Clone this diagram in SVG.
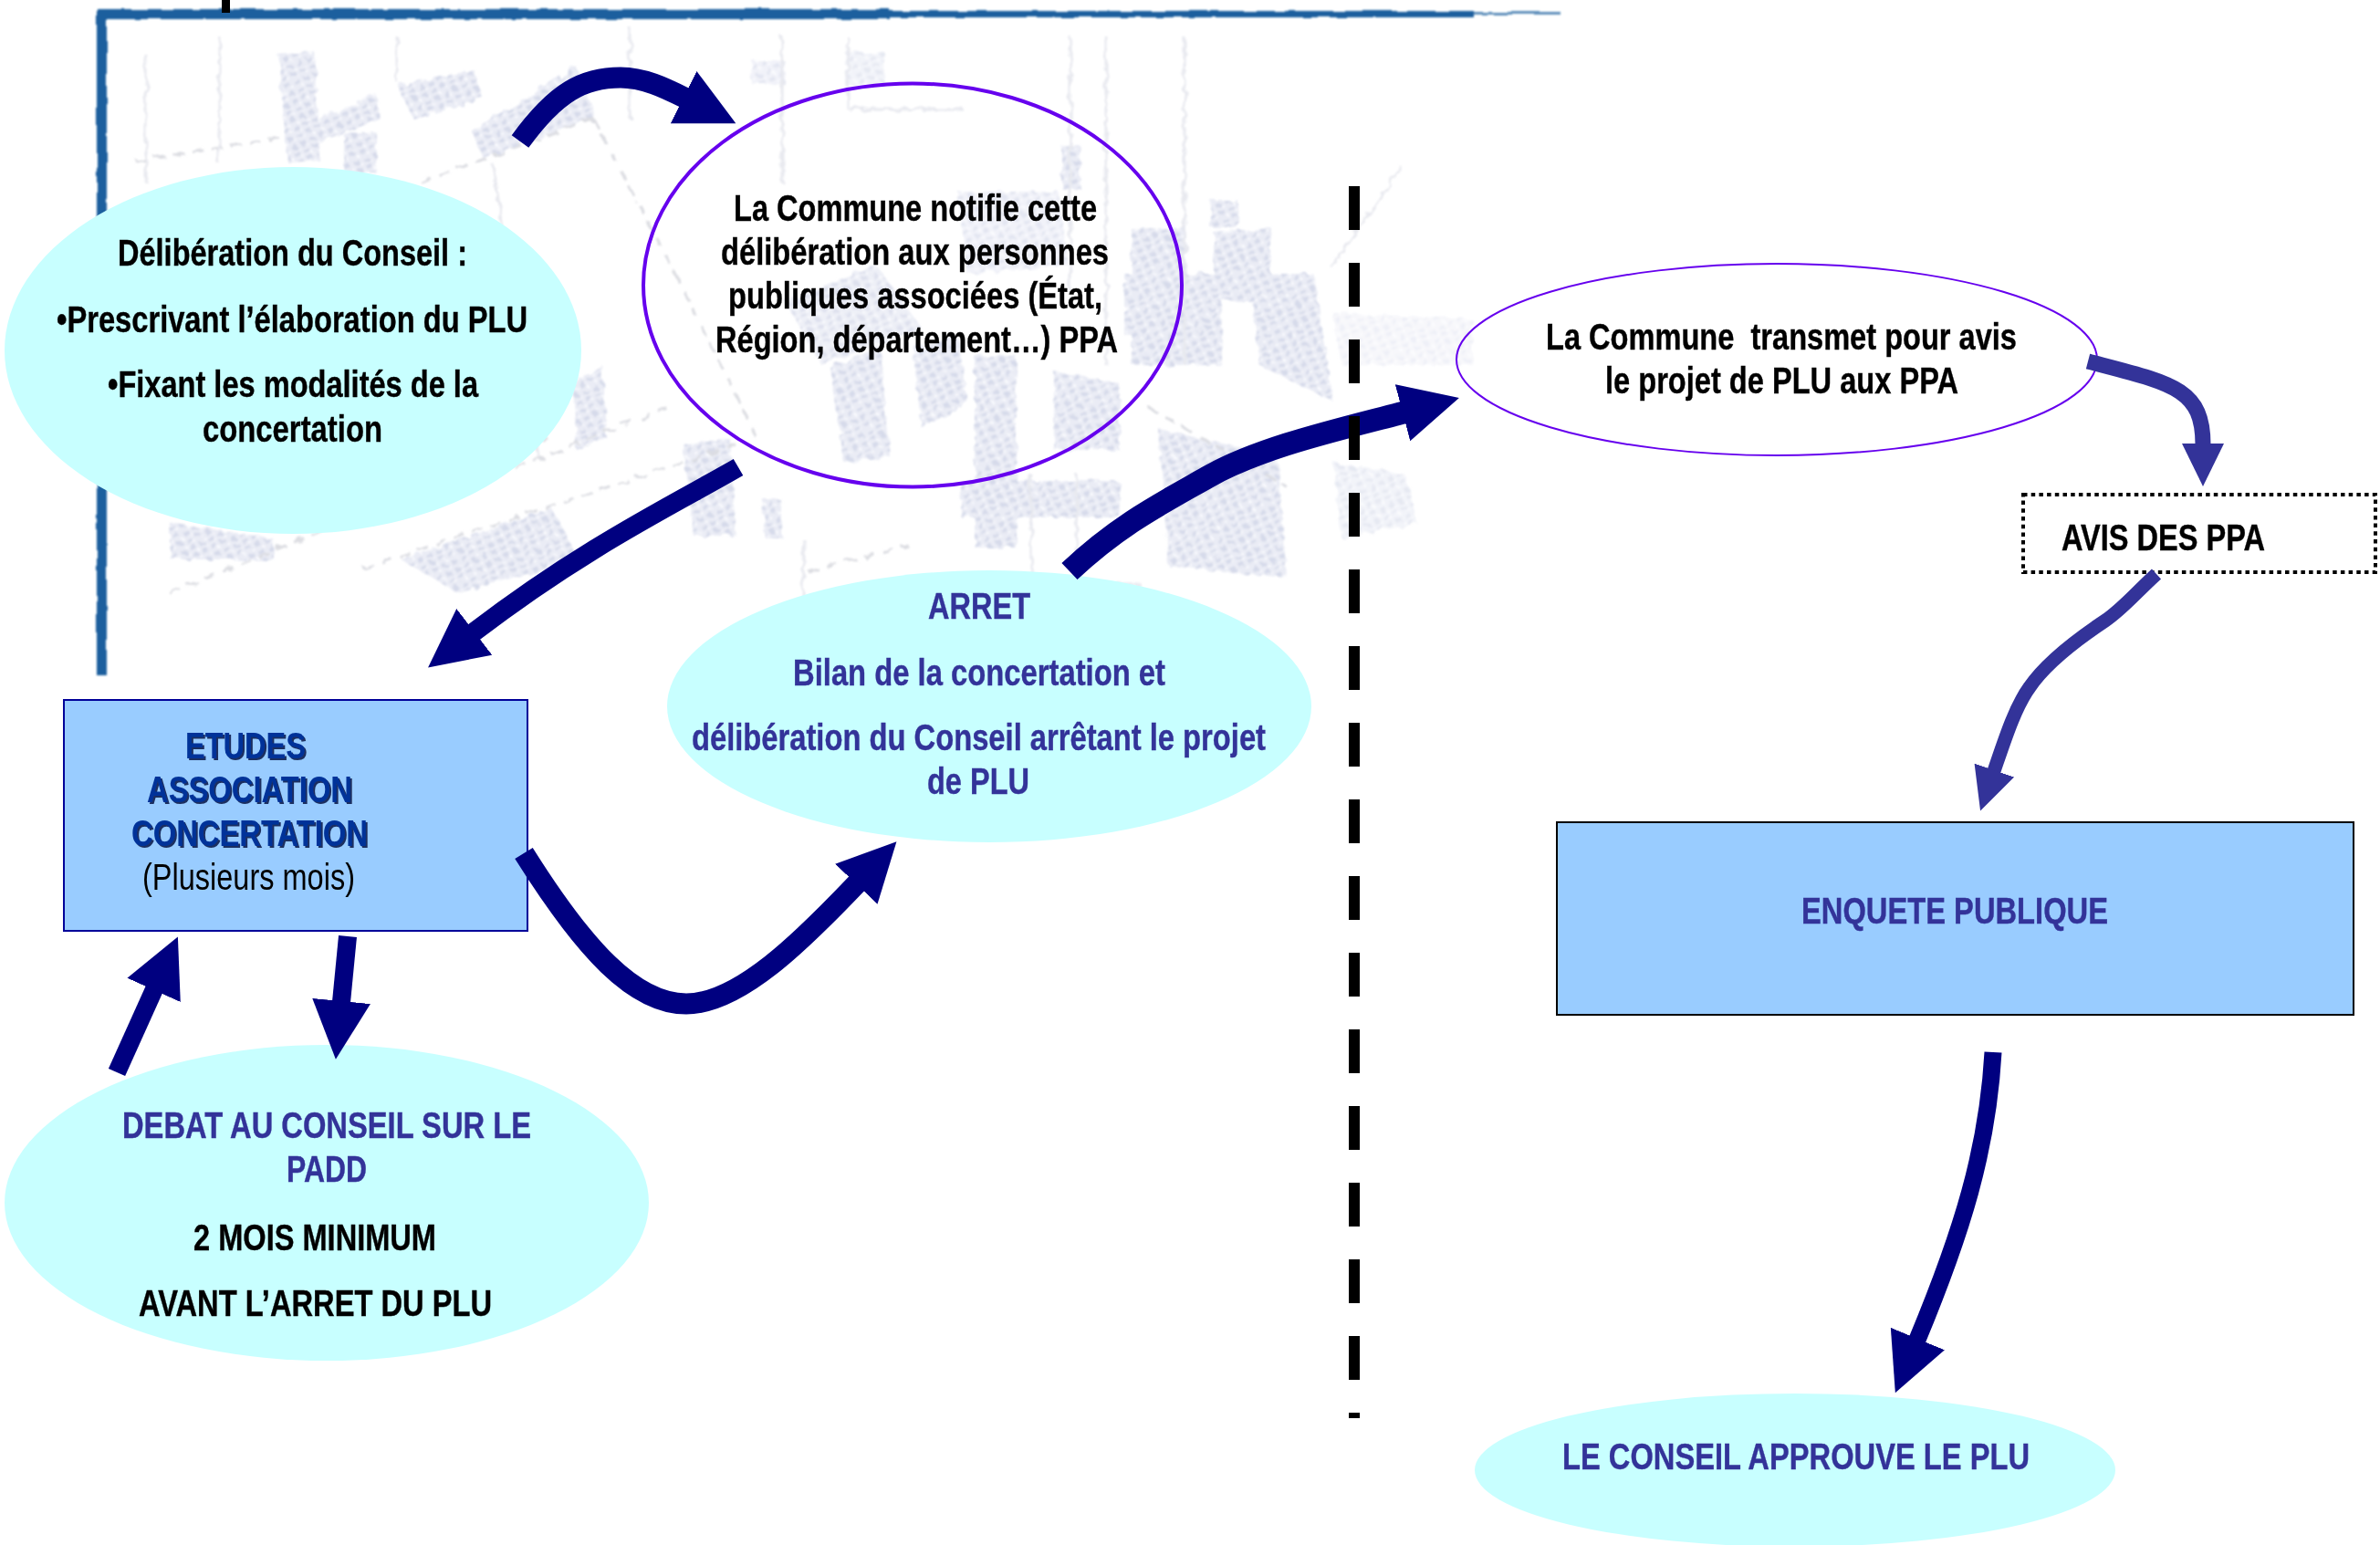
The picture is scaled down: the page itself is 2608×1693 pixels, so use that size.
<svg xmlns="http://www.w3.org/2000/svg" width="2608" height="1693" viewBox="0 0 2608 1693">
<style>
text{font-family:"Liberation Sans",Arial,sans-serif;font-size:40px;font-weight:700;white-space:pre}
.k{fill:#000;stroke:#000;stroke-width:.4}
.b{fill:#333399;stroke:#333399;stroke-width:.4}
.n{fill:#003399;filter:url(#shadow)}
.r{font-weight:400;fill:#000}
.cyan{fill:#c8ffff}
.rect{fill:#99ccff}
.vio{fill:none;stroke:#6600ee}
.navy{fill:none;stroke:#000080;marker-end:url(#hn)}
.blue{fill:none;stroke:#333399;marker-end:url(#hb)}
.bl{fill:url(#tex)}
.rd{fill:none;stroke:#dcdde2;stroke-width:3;stroke-dasharray:12 9}
.vl{fill:none;stroke:#e8e9ef;stroke-width:3}
</style>
<defs>
<pattern id="tex" width="11" height="9" patternUnits="userSpaceOnUse" patternTransform="rotate(-25)">
<rect width="11" height="9" fill="#eaecf5"/>
<rect x="1" y="1" width="6" height="4" fill="#d6daea"/>
<rect x="7" y="6" width="3" height="2" fill="#fafbfe"/>
</pattern>
<filter id="blur" x="-5%" y="-5%" width="110%" height="110%">
<feTurbulence type="fractalNoise" baseFrequency="0.09" numOctaves="2" seed="4" result="t"/>
<feDisplacementMap in="SourceGraphic" in2="t" scale="9" result="d"/>
<feGaussianBlur in="d" stdDeviation="1.3"/>
</filter>
<filter id="fr" x="-5%" y="-50%" width="110%" height="200%">
<feTurbulence type="fractalNoise" baseFrequency="0.05" numOctaves="2" seed="7" result="t"/>
<feDisplacementMap in="SourceGraphic" in2="t" scale="4" result="d"/>
<feGaussianBlur in="d" stdDeviation="0.9"/>
</filter>
<filter id="shadow" x="-5%" y="-10%" width="110%" height="130%"><feDropShadow dx="2" dy="2" stdDeviation="0.6" flood-color="#0a1a50" flood-opacity="0.9"/></filter>
<marker id="hn" markerUnits="userSpaceOnUse" markerWidth="66" markerHeight="66" viewBox="0 0 66 66" refX="1" refY="33" orient="auto"><path d="M0,1 L64,33 L0,65 Z" fill="#000080"/></marker>
<marker id="hb" markerUnits="userSpaceOnUse" markerWidth="48" markerHeight="48" viewBox="0 0 48 48" refX="1" refY="24" orient="auto"><path d="M0,1 L47,24 L0,47 Z" fill="#333399"/></marker>
</defs>

<g id="map">
<g filter="url(#blur)">
<g class="bl">
<polygon points="305,60 345,56 350,176 315,178"/>
<polygon points="332,138 412,103 418,130 338,160"/>
<polygon points="435,93 520,77 528,107 453,130"/>
<polygon points="517,143 631,73 653,128 529,173"/>
<polygon points="377,147 412,145 412,190 377,190"/>
<polygon points="186,573 300,590 300,613 186,613"/>
<polygon points="439,613 605,557 634,613 502,650"/>
<polygon points="749,487 800,480 806,587 760,587"/>
<polygon points="835,547 855,547 858,590 838,590"/>
<polygon points="628,420 660,400 665,480 632,493"/>
<polygon points="824,67 860,67 860,92 824,92" opacity="0.7"/>
<polygon points="926,57 969,57 969,93 926,93" opacity="0.6"/>
<polygon points="1163,160 1184,160 1184,207 1163,207"/>
<polygon points="1327,220 1357,220 1357,250 1327,250"/>
<polygon points="1240,250 1300,250 1300,400 1240,400"/>
<polygon points="1330,255 1393,250 1393,330 1330,330"/>
<polygon points="1050,210 1160,210 1170,290 1060,300" opacity="0.7"/>
<polygon points="910,403 965,380 975,500 925,507"/>
<polygon points="860,330 960,290 1010,360 900,400" opacity="0.8"/>
<polygon points="1369,300 1440,300 1461,440 1380,400"/>
<polygon points="1270,470 1400,500 1410,633 1280,620"/>
<polygon points="1053,527 1227,527 1227,567 1053,567"/>
<polygon points="1068,390 1114,390 1114,600 1068,600"/>
<polygon points="1155,407 1227,420 1227,493 1155,493"/>
<polygon points="1461,507 1540,520 1553,573 1470,590" opacity="0.6"/>
<polygon points="1298,300 1339,300 1339,400 1298,400"/>
<polygon points="1232,300 1272,300 1272,367 1232,367"/>
<polygon points="1460,343 1614,350 1614,400 1470,400" opacity="0.4"/>
<polygon points="1000,380 1050,370 1060,440 1010,470"/>
</g>
<path class="rd" d="M149,177 L314,150 M565,513 L731,447 M398,623 L806,487 M886,627 L995,597 M462,200 L653,128 M186,650 L600,480 M1259,447 L1410,533 M650,130 L740,300 M740,300 L830,480"/>
<path class="vl" d="M857,40 V200 M929,40 V120 M1173,40 V320 M1212,40 V400 M1298,40 V400 M240,40 V180 M160,60 V200 M435,40 V90 M931,120 H1056 M1459,293 L1536,183 M690,30 V130 M540,180 L590,500 M1130,520 V660 M1180,520 V650 M880,590 V680 M1150,640 L1250,640"/>
</g>
<g filter="url(#fr)" fill="#1c5f9e">
<rect x="107" y="10" width="868" height="11"/>
<rect x="975" y="12" width="640" height="7"/>
<rect x="1615" y="13" width="95" height="3" opacity="0.7"/>
<rect x="106" y="12" width="11" height="728"/>
</g>
<rect x="243" y="0" width="9" height="14" fill="#000"/>
</g>

<g id="n-deliberation">
<ellipse class="cyan" cx="321" cy="384" rx="316" ry="201"/>
<text class="k" x="129" y="291" textLength="383" lengthAdjust="spacingAndGlyphs">Délibération du Conseil :</text>
<text class="k" x="62" y="364" textLength="516" lengthAdjust="spacingAndGlyphs">•Prescrivant l’élaboration du PLU</text>
<text class="k" x="118" y="435" textLength="406" lengthAdjust="spacingAndGlyphs">•Fixant les modalités de la</text>
<text class="k" x="222" y="484" textLength="197" lengthAdjust="spacingAndGlyphs">concertation</text>
</g>
<g id="n-notifie">
<ellipse class="vio" stroke-width="4" cx="1000" cy="312.500" rx="295" ry="221"/>
<text class="k" x="804" y="242" textLength="398" lengthAdjust="spacingAndGlyphs">La Commune notifie cette</text>
<text class="k" x="790" y="290" textLength="425" lengthAdjust="spacingAndGlyphs">délibération aux personnes</text>
<text class="k" x="798" y="338" textLength="410" lengthAdjust="spacingAndGlyphs">publiques associées (État,</text>
<text class="k" x="784" y="386" textLength="441" lengthAdjust="spacingAndGlyphs">Région, département…) PPA</text>
</g>
<g id="n-arret">
<ellipse class="cyan" cx="1084" cy="774" rx="353" ry="149"/>
<text class="b" x="1017" y="678" textLength="112" lengthAdjust="spacingAndGlyphs">ARRET</text>
<text class="b" x="869" y="751" textLength="408" lengthAdjust="spacingAndGlyphs">Bilan de la concertation et</text>
<text class="b" x="758" y="822" textLength="629" lengthAdjust="spacingAndGlyphs">délibération du Conseil arrêtant le projet</text>
<text class="b" x="1016" y="870" textLength="112" lengthAdjust="spacingAndGlyphs">de PLU</text>
</g>
<g id="n-etudes">
<rect class="rect" x="70" y="767" width="508" height="253" stroke="#000099" stroke-width="2"/>
<text class="n" x="203" y="831" textLength="132" lengthAdjust="spacingAndGlyphs">ETUDES</text>
<text class="n" x="161" y="879" textLength="225" lengthAdjust="spacingAndGlyphs">ASSOCIATION</text>
<text class="n" x="144" y="927" textLength="259" lengthAdjust="spacingAndGlyphs">CONCERTATION</text>
<text class="r" x="156" y="975" textLength="233" lengthAdjust="spacingAndGlyphs">(Plusieurs mois)</text>
</g>
<g id="n-debat">
<ellipse class="cyan" cx="358" cy="1318" rx="353" ry="173"/>
<text class="b" x="134" y="1247" textLength="448" lengthAdjust="spacingAndGlyphs">DEBAT AU CONSEIL SUR LE</text>
<text class="b" x="314" y="1295" textLength="88" lengthAdjust="spacingAndGlyphs">PADD</text>
<text class="k" x="212" y="1370" textLength="266" lengthAdjust="spacingAndGlyphs">2 MOIS MINIMUM</text>
<text class="k" x="152" y="1442" textLength="387" lengthAdjust="spacingAndGlyphs">AVANT L’ARRET DU PLU</text>
</g>
<g id="n-transmet">
<ellipse class="vio" stroke-width="2" cx="1947" cy="394" rx="351" ry="105"/>
<text class="k" x="1694" y="383" textLength="516" lengthAdjust="spacingAndGlyphs">La Commune  transmet pour avis</text>
<text class="k" x="1759" y="431" textLength="387" lengthAdjust="spacingAndGlyphs">le projet de PLU aux PPA</text>
</g>
<g id="n-avis">
<rect x="2217" y="542" width="386" height="85" fill="#fff" stroke="#000" stroke-width="4" stroke-dasharray="4.500 4.200"/>
<text class="k" x="2259" y="603" textLength="223" lengthAdjust="spacingAndGlyphs">AVIS DES PPA</text>
</g>
<g id="n-enquete">
<rect class="rect" x="1706" y="901" width="873" height="211" stroke="#000" stroke-width="2"/>
<text class="b" x="1974" y="1012" textLength="336" lengthAdjust="spacingAndGlyphs">ENQUETE PUBLIQUE</text>
</g>
<g id="n-approuve">
<ellipse class="cyan" cx="1967" cy="1611" rx="351" ry="84"/>
<text class="b" x="1712" y="1610" textLength="512" lengthAdjust="spacingAndGlyphs">LE CONSEIL APPROUVE LE PLU</text>
</g>

<g id="connectors">
<path class="navy" stroke-width="23" d="M570,155 C610,100 640,85 680,85 C705,85 728,96 750,107"/>
<path class="navy" stroke-width="21" d="M809,512 C740,552 640,600 519,693"/>
<path class="navy" stroke-width="25" d="M1172,626 C1225,576 1270,553 1323,523 C1380,490 1470,470 1538,452"/>
<path class="navy" stroke-width="23" d="M574,935 C640,1040 695,1100 752,1100 C810,1100 880,1030 939,968"/>
<path class="navy" stroke-width="20" d="M128,1175 L169,1084"/>
<path class="navy" stroke-width="20" d="M381,1026 L374,1098"/>
<path class="blue" stroke-width="17" d="M2288,396 C2380,420 2414,425 2414,487"/>
<path class="blue" stroke-width="15" d="M2363,629 C2340,650 2325,668 2307,680 C2280,698 2243,725 2224,753 C2208,775 2197,810 2185,845"/>
<path class="navy" stroke-width="19" d="M2184,1153 C2178,1260 2150,1350 2101,1468"/>
</g>

<g id="divider">
<line x1="1484" y1="204" x2="1484" y2="1554" stroke="#000" stroke-width="12" stroke-dasharray="48 36"/>
</g>
</svg>
